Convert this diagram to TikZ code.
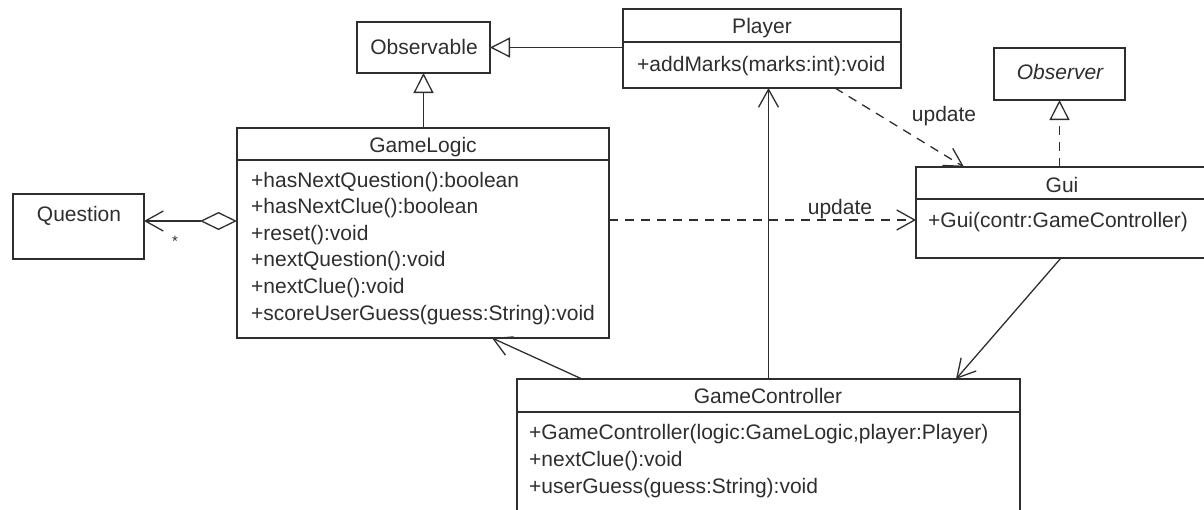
\documentclass[tikz,border=0pt]{standalone}
\usepackage{fontspec}
\setmainfont{Liberation Sans}
\usetikzlibrary{arrows.meta}
\definecolor{ink}{HTML}{2E2E2E}
\begin{document}
\begin{tikzpicture}[x=1pt,y=-1pt,
  every node/.style={font=\fontsize{21}{26}\selectfont, text=ink},
  cls/.style={draw=ink, line width=1.4pt, rectangle, inner sep=0pt, outer sep=0pt, anchor=north west},
  ttl/.style={inner sep=0pt, anchor=base},
  mth/.style={inner sep=0pt, anchor=base west},
  lbl/.style={inner sep=0pt},
  conn/.style={draw=ink, line width=1.3pt},
  nav/.style={conn, -{Straight Barb[length=18pt,width=20pt,line width=1.3pt]}},
  gen/.style={conn, -{Triangle[open,length=20pt,width=20pt,line width=1.3pt]}},
  dep/.style={nav, dash pattern=on 9pt off 7pt},
  real/.style={gen, dash pattern=on 9pt off 7pt},
  agg/.style={conn, {Diamond[open,length=37pt,width=18pt,line width=1.3pt]}-{Straight Barb[length=18pt,width=20pt,line width=1.3pt]}}
]
\useasboundingbox (0,0) rectangle (1204,509);
\clip (0,0) rectangle (1204,509);

% Observable
\node[cls, minimum width=133pt, minimum height=51pt] (obs) at (357,22) {};
\node[ttl] (obsT) at (424,54) {Observable};

% Player
\node[cls, minimum width=278pt, minimum height=79pt] (pl) at (623,9) {};
\draw[conn] (pl.west |- 0,42) -- (pl.east |- 0,42);
\node[ttl] (plT) at (762,33) {Player};
\node[mth] (pl1) at (637,71) {+addMarks(marks:int):void};

% Observer
\node[cls, minimum width=131pt, minimum height=52pt] (obsr) at (994,48) {};
\node[ttl] (obsrT) at (1060,79) {\itshape Observer};

% GameLogic
\node[cls, minimum width=372pt, minimum height=210pt] (gl) at (237,128) {};
\draw[conn] (gl.west |- 0,160) -- (gl.east |- 0,160);
\node[ttl] (glT) at (423,152) {GameLogic};
\node[mth] (gl1) at (251,187) {+hasNextQuestion():boolean};
\node[mth] (gl2) at (251,213.6) {+hasNextClue():boolean};
\node[mth] (gl3) at (251,240.2) {+reset():void};
\node[mth] (gl4) at (251,266.8) {+nextQuestion():void};
\node[mth] (gl5) at (251,293.4) {+nextClue():void};
\node[mth] (gl6) at (251,320) {+scoreUserGuess(guess:String):void};

% Question
\node[cls, minimum width=131pt, minimum height=65pt] (q) at (13,194) {};
\node[ttl] (qT) at (79,221) {Question};

% Gui
\node[cls, minimum width=292pt, minimum height=91pt] (gui) at (916,167) {};
\draw[conn] (gui.west |- 0,199) -- (gui.east |- 0,199);
\node[ttl] (guiT) at (1062,192) {Gui};
\node[mth] (gui1) at (928,227) {+Gui(contr:GameController)};

% GameController
\node[cls, minimum width=503pt, minimum height=160pt] (gc) at (517,379) {};
\draw[conn] (gc.west |- 0,412) -- (gc.east |- 0,412);
\node[ttl] (gcT) at (768,403) {GameController};
\node[mth] (gc1) at (529,439) {+GameController(logic:GameLogic,player:Player)};
\node[mth] (gc2) at (529,466) {+nextClue():void};
\node[mth] (gc3) at (529,493) {+userGuess(guess:String):void};

% connectors
\draw[gen] (obs.east -| pl.west) -- (obs.east);
\draw[gen] (gl.north -| obs.south) -- (obs.south);
\coordinate (aggS) at ([yshift=12pt]gl.west);
\draw[agg] (aggS) -- (aggS -| q.east);
\node[lbl, font=\fontsize{15}{15}\selectfont] (star) at (175,241) {*};
\draw[dep] ([yshift=13pt]gl.east) -- ([yshift=13pt]gl.east -| gui.west);
\node[lbl] (u1) at (840,209) {update};
\draw[dep] ([xshift=73pt]pl.south) -- ([xshift=-98pt]gui.north);
\node[lbl] (u2) at (944,116) {update};
\draw[real] (gui.north -| obsr.south) -- (obsr.south);
\draw[nav] ([xshift=-1pt]gui.south) -- ([xshift=187.5pt]gc.north);
\draw[nav] (gc.north) -- (gc.north |- pl.south);
\draw[nav] ([xshift=-186.5pt]gc.north) -- ([xshift=69pt]gl.south);
\end{tikzpicture}
\end{document}
